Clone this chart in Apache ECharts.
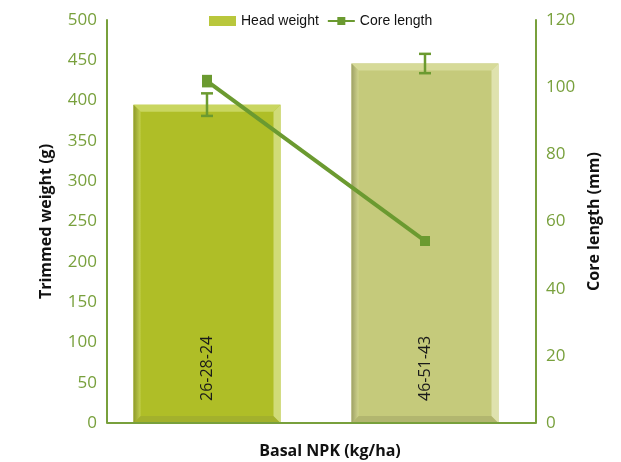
<!DOCTYPE html>
<html>
<head>
<meta charset="utf-8">
<script src="https://cdn.jsdelivr.net/npm/echarts@6/dist/echarts.min.js"></script>
<style>
  html, body { margin: 0; padding: 0; background: #fff; }
  #chart { width: 621px; height: 462px; }
</style>
</head>
<body>
<div id="chart"></div>
<script>
const categories = ['26-28-24', '46-51-43'];
const headWeight = [395, 446];
const headWeightErr = [14, 12];
const coreLength = [101.8, 54.2];
const coreLengthErr = [1.5, 1];
const leftTicks = { min: 0, max: 500, interval: 50 };
const rightTicks = { min: 0, max: 120, interval: 20 };

const green = '#6b9a30';
const labelGreen = '#78a03c';

// bevel colours per bar: inner, top, bottom, left(outer->inner), right
const barLooks = [
  { inner: '#afbe27', top: '#c9d660', bottom: '#a3b12c', left: ['#8e9a2a', '#c2cf4e'], right: '#d0db78' },
  { inner: '#c5ca7b', top: '#d6da98', bottom: '#b2b66f', left: ['#9ea165', '#cfd38c'], right: '#dfe2ae' }
];

const chart = echarts.init(document.getElementById('chart'));

function renderBevelBar(params, api) {
  const idx = api.value(0);
  const top = api.coord([idx, api.value(1)]);
  const base = api.coord([idx, 0]);
  const w = 147, b = 7;
  const x0 = top[0] - w / 2, x1 = top[0] + w / 2;
  const y0 = top[1], y1 = base[1];
  const look = barLooks[idx];
  const poly = (pts, fill) => ({ type: 'polygon', shape: { points: pts }, style: { fill: fill } });
  return {
    type: 'group',
    children: [
      { type: 'rect', shape: { x: x0, y: y0, width: w, height: y1 - y0 }, style: { fill: look.inner } },
      poly([[x0, y0], [x1, y0], [x1 - b, y0 + b], [x0 + b, y0 + b]], look.top),
      poly([[x0, y1], [x1, y1], [x1 - b, y1 - b], [x0 + b, y1 - b]], look.bottom),
      poly([[x0, y0], [x0 + b, y0 + b], [x0 + b, y1 - b], [x0, y1]],
        new echarts.graphic.LinearGradient(0, 0, 1, 0, [
          { offset: 0, color: look.left[0] }, { offset: 1, color: look.left[1] }
        ])),
      poly([[x1, y0], [x1 - b, y0 + b], [x1 - b, y1 - b], [x1, y1]], look.right)
    ]
  };
}

function renderErr(cap) {
  return function (params, api) {
    const idx = api.value(0);
    const hi = api.coord([idx, api.value(1)]);
    const lo = api.coord([idx, api.value(2)]);
    const s = { stroke: green, lineWidth: 2.5 };
    return {
      type: 'group',
      children: [
        { type: 'line', shape: { x1: hi[0], y1: hi[1], x2: lo[0], y2: lo[1] }, style: s },
        { type: 'line', shape: { x1: hi[0] - cap, y1: hi[1], x2: hi[0] + cap, y2: hi[1] }, style: s },
        { type: 'line', shape: { x1: lo[0] - cap, y1: lo[1], x2: lo[0] + cap, y2: lo[1] }, style: s }
      ]
    };
  };
}

const option = {
  animation: false,
  grid: { left: 98, right: 87, top: 20, bottom: 39, outerBoundsMode: 'none', containLabel: false },
  legend: {
    left: 204,
    top: 9,
    itemWidth: 27,
    itemHeight: 10,
    itemGap: 8,
    textStyle: { fontFamily: 'Liberation Sans', fontSize: 14, color: '#111' },
    data: [
      { name: 'Head weight', icon: 'rect', itemStyle: { color: '#b9c73c' } },
      { name: 'Core length' }
    ]
  },
  xAxis: {
    type: 'category',
    data: categories,
    name: 'Basal NPK (kg/ha)',
    nameLocation: 'middle',
    nameGap: 20,
    nameTextStyle: { fontFamily: 'Open Sans', fontWeight: 'bold', fontSize: 16, color: '#111', padding: [0, 0, 0, 28] },
    axisLine: { show: false },
    axisTick: { show: false },
    axisLabel: {
      inside: true,
      rotate: 90,
      margin: 22,
      fontFamily: 'Open Sans',
      fontSize: 16,
      color: '#1a1a1a'
    },
    z: 10
  },
  yAxis: [
    {
      type: 'value',
      min: leftTicks.min,
      max: leftTicks.max,
      interval: leftTicks.interval,
      offset: -9,
      name: 'Trimmed weight (g)',
      nameLocation: 'middle',
      nameGap: 53,
      nameTextStyle: { fontFamily: 'Open Sans', fontWeight: 'bold', fontSize: 16, color: '#111' },
      axisLine: { show: true, lineStyle: { color: labelGreen, width: 2 } },
      axisTick: { show: false },
      splitLine: { show: false },
      axisLabel: { margin: 10, fontFamily: 'Open Sans', fontSize: 17, color: labelGreen }
    },
    {
      type: 'value',
      min: rightTicks.min,
      max: rightTicks.max,
      interval: rightTicks.interval,
      offset: 2,
      position: 'right',
      name: 'Core length (mm)',
      nameLocation: 'middle',
      nameGap: 46,
      nameTextStyle: { fontFamily: 'Open Sans', fontWeight: 'bold', fontSize: 16, color: '#111' },
      axisLine: { show: true, lineStyle: { color: labelGreen, width: 2 } },
      axisTick: { show: false },
      splitLine: { show: false },
      axisLabel: { margin: 10, fontFamily: 'Open Sans', fontSize: 17, color: labelGreen }
    }
  ],
  graphic: [
    // bottom baseline between the two value axes
    { type: 'line', shape: { x1: 107, y1: 423, x2: 536, y2: 423 }, style: { stroke: labelGreen, lineWidth: 2 }, z: 5 }
  ],
  series: [
    {
      name: 'Head weight',
      type: 'custom',
      renderItem: renderBevelBar,
      encode: { x: 0, y: 1 },
      data: headWeight.map((v, i) => [i, v]),
      z: 1
    },
    {
      name: 'Head weight err',
      type: 'custom',
      renderItem: renderErr(6),
      encode: { x: 0, y: [1, 2] },
      data: headWeight.map((v, i) => [i, v + headWeightErr[i], v - headWeightErr[i]]),
      z: 3
    },
    {
      name: 'Core length',
      type: 'line',
      yAxisIndex: 1,
      data: coreLength,
      symbol: 'rect',
      symbolSize: 10,
      lineStyle: { color: green, width: 4 },
      itemStyle: { color: green },
      z: 4
    },
    {
      name: 'Core length err',
      type: 'custom',
      yAxisIndex: 1,
      renderItem: renderErr(5),
      encode: { x: 0, y: [1, 2] },
      data: coreLength.map((v, i) => [i, v + coreLengthErr[i], v - coreLengthErr[i]]),
      z: 4
    }
  ]
};

chart.setOption(option);
</script>
</body>
</html>
